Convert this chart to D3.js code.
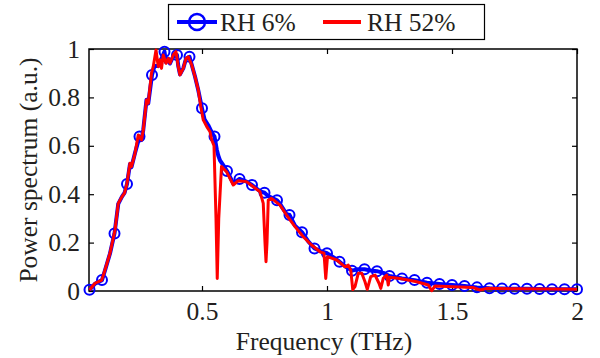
<!DOCTYPE html>
<html>
<head>
<meta charset="utf-8">
<script src="https://cdn.jsdelivr.net/npm/d3@7"></script>
<style>
  body { margin: 0; background: #fff; }
  svg text { font-family: "Liberation Serif", "Times New Roman", "DejaVu Serif", serif; fill: #231f20; }
</style>
</head>
<body>
<svg id="chart" width="600" height="358"></svg>
<script>
// RH 6% spectrum (blue), markers sit on every 0.05 THz point
var blueFreq = [0.05, 0.072, 0.10, 0.112, 0.132, 0.15, 0.165, 0.18, 0.19, 0.20, 0.212, 0.218, 0.232, 0.25, 0.258, 0.265, 0.278, 0.285, 0.30, 0.31, 0.325, 0.35, 0.356, 0.365, 0.372, 0.385, 0.40, 0.405, 0.412, 0.425, 0.436, 0.45, 0.459, 0.472, 0.485, 0.50, 0.51, 0.525, 0.539, 0.55, 0.559, 0.565, 0.572, 0.585, 0.60, 0.625, 0.65, 0.678, 0.70, 0.732, 0.75, 0.765, 0.78, 0.80, 0.812, 0.838, 0.85, 0.872, 0.90, 0.925, 0.95, 0.975, 1.00, 1.025, 1.05, 1.075, 1.10, 1.125, 1.15, 1.175, 1.20, 1.225, 1.25, 1.30, 1.35, 1.40, 1.45, 1.50, 1.55, 1.60, 1.65, 1.70, 1.75, 1.80, 1.85, 1.90, 1.95, 2.00];
var bluePower = [0.005, 0.03, 0.045, 0.085, 0.155, 0.238, 0.36, 0.39, 0.405, 0.442, 0.525, 0.512, 0.57, 0.638, 0.625, 0.665, 0.79, 0.775, 0.893, 0.93, 0.93, 0.989, 0.945, 0.96, 0.94, 0.97, 0.975, 0.93, 0.895, 0.92, 0.96, 0.968, 0.935, 0.886, 0.83, 0.755, 0.71, 0.685, 0.655, 0.638, 0.585, 0.56, 0.54, 0.52, 0.496, 0.445, 0.463, 0.452, 0.438, 0.412, 0.406, 0.392, 0.385, 0.375, 0.36, 0.318, 0.314, 0.27, 0.243, 0.205, 0.176, 0.165, 0.156, 0.14, 0.121, 0.1, 0.084, 0.09, 0.09, 0.085, 0.082, 0.075, 0.062, 0.052, 0.045, 0.034, 0.029, 0.025, 0.021, 0.015, 0.011, 0.01, 0.009, 0.009, 0.008, 0.007, 0.007, 0.007];

// RH 52% spectrum (red), with the water absorption dips
var redFreq = [0.05, 0.072, 0.099, 0.112, 0.132, 0.152, 0.165, 0.18, 0.19, 0.2, 0.212, 0.218, 0.232, 0.245, 0.258, 0.265, 0.278, 0.285, 0.298, 0.305, 0.316, 0.325, 0.332, 0.338, 0.345, 0.356, 0.365, 0.372, 0.385, 0.396, 0.405, 0.412, 0.425, 0.436, 0.445, 0.459, 0.472, 0.485, 0.495, 0.505, 0.519, 0.532, 0.539, 0.548, 0.556, 0.561, 0.567, 0.578, 0.598, 0.625, 0.645, 0.678, 0.705, 0.732, 0.745, 0.752, 0.756, 0.76, 0.765, 0.778, 0.812, 0.838, 0.872, 0.905, 0.938, 0.972, 0.988, 0.995, 1.002, 1.039, 1.072, 1.085, 1.095, 1.103, 1.112, 1.125, 1.139, 1.152, 1.161, 1.175, 1.192, 1.208, 1.215, 1.225, 1.239, 1.245, 1.25, 1.292, 1.359, 1.405, 1.419, 1.432, 1.505, 1.585, 1.612, 1.639, 1.759, 2.0];
var redPower = [0.004, 0.032, 0.045, 0.087, 0.156, 0.252, 0.362, 0.39, 0.404, 0.445, 0.528, 0.514, 0.569, 0.645, 0.624, 0.665, 0.789, 0.776, 0.9, 0.927, 0.996, 0.927, 0.955, 0.92, 0.975, 0.941, 0.961, 0.941, 0.975, 0.989, 0.927, 0.893, 0.92, 0.961, 0.968, 0.934, 0.886, 0.831, 0.762, 0.707, 0.679, 0.658, 0.624, 0.6, 0.3, 0.052, 0.3, 0.514, 0.493, 0.438, 0.456, 0.452, 0.431, 0.41, 0.362, 0.2, 0.121, 0.2, 0.376, 0.383, 0.355, 0.314, 0.266, 0.224, 0.19, 0.162, 0.156, 0.052, 0.142, 0.128, 0.1, 0.107, 0.087, 0.006, 0.018, 0.073, 0.073, 0.038, 0.007, 0.059, 0.066, 0.032, 0.011, 0.052, 0.066, 0.025, 0.057, 0.052, 0.038, 0.025, 0.001, 0.021, 0.018, 0.014, 0.004, 0.011, 0.009, 0.007];

var xTicks = [0.5, 1, 1.5, 2];
var yTicks = [0, 0.2, 0.4, 0.6, 0.8, 1];
var seriesNames = ['RH 6%', 'RH 52%'];

var svg = d3.select('#chart'),
    plotLeft = 89, plotRight = 577, plotTop = 49, plotBottom = 291,
    tickLen = 5,
    fontSize = 25.5,
    serif = '"Liberation Serif", "Times New Roman", "DejaVu Serif", serif';

var x = d3.scaleLinear().domain([0.048, 2]).range([plotLeft, plotRight]);
var y = d3.scaleLinear().domain([0, 1]).range([plotBottom, plotTop]);

var blue = blueFreq.map(function(f, i) { return { f: f, p: bluePower[i] }; });
var red = redFreq.map(function(f, i) { return { f: f, p: redPower[i] }; });
var markers = blue.filter(function(d) { return Math.abs(d.f * 20 - Math.round(d.f * 20)) < 1e-6; });

var line = d3.line()
    .x(function(d) { return x(d.f); })
    .y(function(d) { return y(d.p); });

// axes box with inward ticks on all four sides
var bottomAxis = d3.axisBottom(x).tickValues(xTicks).tickSize(-tickLen).tickPadding(11).tickFormat(d3.format('~g'));
var topAxis = d3.axisTop(x).tickValues(xTicks).tickSize(-tickLen).tickFormat('');
var leftAxis = d3.axisLeft(y).tickValues(yTicks).tickSize(-tickLen).tickPadding(9).tickFormat(d3.format('~g'));
var rightAxis = d3.axisRight(y).tickValues(yTicks).tickSize(-tickLen).tickFormat('');

function styleAxis(g) {
    g.attr('font-family', serif);
    g.select('.domain').remove();
    g.selectAll('.tick line').attr('stroke', '#000').attr('stroke-width', 1.2);
    g.selectAll('.tick text').attr('font-size', fontSize).attr('fill', '#231f20');
}

svg.append('g').attr('transform', 'translate(0,' + plotBottom + ')').call(bottomAxis).call(styleAxis);
svg.append('g').attr('transform', 'translate(0,' + plotTop + ')').call(topAxis).call(styleAxis);
svg.append('g').attr('transform', 'translate(' + plotLeft + ',0)').call(leftAxis).call(styleAxis);
svg.append('g').attr('transform', 'translate(' + plotRight + ',0)').call(rightAxis).call(styleAxis);

svg.append('rect')
    .attr('x', plotLeft).attr('y', plotTop)
    .attr('width', plotRight - plotLeft).attr('height', plotBottom - plotTop)
    .attr('fill', 'none')
    .attr('stroke', '#000')
    .attr('stroke-width', 1.5);

// RH 6%: thick blue line with open circles
svg.append('path')
    .datum(blue)
    .attr('d', line)
    .attr('fill', 'none')
    .attr('stroke', '#0000ff')
    .attr('stroke-width', 4)
    .attr('stroke-linejoin', 'round');

svg.append('g').selectAll('circle')
    .data(markers)
    .enter().append('circle')
    .attr('cx', function(d) { return x(d.f); })
    .attr('cy', function(d) { return y(d.p); })
    .attr('r', 5)
    .attr('fill', 'none')
    .attr('stroke', '#0000ff')
    .attr('stroke-width', 2);

// RH 52%: red line on top
svg.append('path')
    .datum(red)
    .attr('d', line)
    .attr('fill', 'none')
    .attr('stroke', '#ff0000')
    .attr('stroke-width', 3)
    .attr('stroke-linejoin', 'round');

// axis labels
svg.append('text')
    .attr('x', 324)
    .attr('y', 350)
    .attr('text-anchor', 'middle')
    .attr('font-size', fontSize)
    .text('Frequency (THz)');

svg.append('text')
    .attr('transform', 'translate(37,' + (plotTop + plotBottom) / 2 + ') rotate(-90)')
    .attr('text-anchor', 'middle')
    .attr('font-size', fontSize)
    .text('Power spectrum (a.u.)');

// legend
var legend = svg.append('g');
legend.append('rect')
    .attr('x', 168.5).attr('y', 4.5)
    .attr('width', 316).attr('height', 35)
    .attr('fill', '#fff')
    .attr('stroke', '#000')
    .attr('stroke-width', 1.2);

legend.append('line')
    .attr('x1', 177).attr('x2', 217).attr('y1', 22).attr('y2', 22)
    .attr('stroke', '#0000ff').attr('stroke-width', 4);
legend.append('circle')
    .attr('cx', 197).attr('cy', 22).attr('r', 8)
    .attr('fill', 'none').attr('stroke', '#0000ff').attr('stroke-width', 2.5);
legend.append('text')
    .attr('x', 220).attr('y', 31)
    .attr('font-size', fontSize)
    .text(seriesNames[0]);

legend.append('line')
    .attr('x1', 323).attr('x2', 361).attr('y1', 22).attr('y2', 22)
    .attr('stroke', '#ff0000').attr('stroke-width', 4);
legend.append('text')
    .attr('x', 367).attr('y', 31)
    .attr('font-size', fontSize)
    .text(seriesNames[1]);
</script>
</body>
</html>
